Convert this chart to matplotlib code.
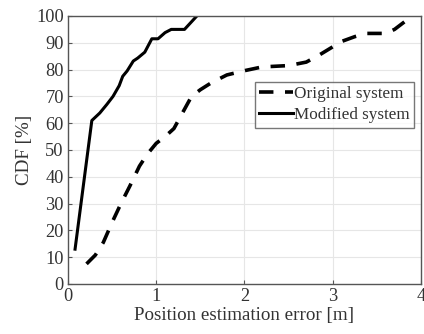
import matplotlib
matplotlib.use("Agg")
import matplotlib.pyplot as plt

orig_x = [0.21, 0.31, 0.40, 0.50, 0.60, 0.70, 0.81, 0.90, 1.00, 1.10, 1.20, 1.30, 1.40, 1.50, 1.62, 1.80, 2.00, 2.20, 2.50, 2.70, 2.85, 3.00, 3.10, 3.25, 3.38, 3.60, 3.70, 3.82]
orig_y = [7.5, 10.8, 15.5, 23, 30, 36.5, 44, 48.5, 52.5, 55, 58, 64, 70, 72.5, 75, 78, 79.6, 81, 81.5, 82.8, 85.5, 88.5, 90.5, 92.3, 93.5, 93.5, 95, 98]

mod_x = [0.08, 0.27, 0.36, 0.44, 0.51, 0.58, 0.62, 0.67, 0.74, 0.79, 0.87, 0.95, 1.02, 1.10, 1.17, 1.32, 1.46]
mod_y = [13, 61, 63.8, 67, 70, 74, 77.5, 79.5, 83.2, 84.3, 86.5, 91.5, 91.5, 93.8, 95, 95, 100]

xticks = [0, 1, 2, 3, 4]
yticks = [0, 10, 20, 30, 40, 50, 60, 70, 80, 90, 100]

plt.rcParams['font.family'] = ['Liberation Serif', 'DejaVu Serif']

fig = plt.figure(figsize=(4.24, 3.34), dpi=100)
ax = fig.add_axes([68/424, 1-284/334, (421-68)/424, (284-16)/334])

ax.plot(orig_x, orig_y, color='black', lw=2.6, dashes=(4, 3.2), label='Original system')
ax.plot(mod_x, mod_y, color='black', lw=2.2, label='Modified system')

ax.set_xlim(0, 4)
ax.set_ylim(0, 100)
ax.set_xticks(xticks)
ax.set_yticks(yticks)
ax.grid(True, color='#e6e6e6', lw=0.8)
ax.set_axisbelow(True)
for s in ax.spines.values():
    s.set_color('#555555')
    s.set_linewidth(1.0)
ax.tick_params(direction='in', length=3, colors='#555555', labelcolor='#333333', labelsize=13.2, pad=3)
ax.set_xlabel('Position estimation error [m]', fontsize=13.7, color='#333333', labelpad=1)
ax.set_ylabel('CDF [%]', fontsize=13.7, color='#333333', labelpad=2)

leg = ax.legend(loc='upper left', bbox_to_anchor=((255-68)/353, 1-(82-16)/268), fontsize=12.3,
                frameon=True, fancybox=False, edgecolor='#555555', borderpad=0.25,
                labelspacing=0.3, handlelength=1.95, handletextpad=0.1, borderaxespad=0)
leg.get_frame().set_linewidth(1.0)
for t in leg.get_texts():
    t.set_color('#333333')

fig.savefig('out.png', dpi=100)
